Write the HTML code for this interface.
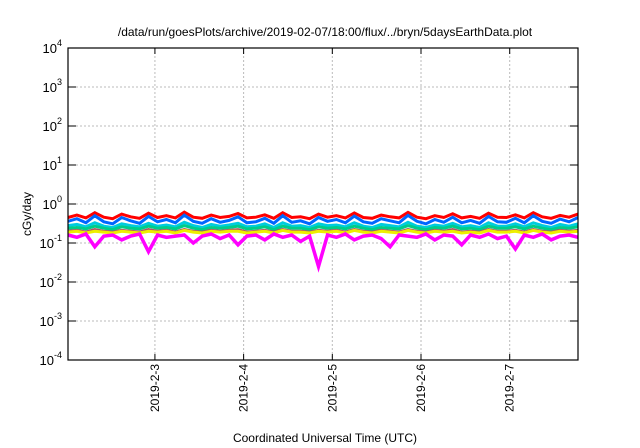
<!DOCTYPE html>
<html><head><meta charset="utf-8"><style>
body{margin:0;background:#fff;}
svg{display:block;font-family:"Liberation Sans",sans-serif;}
</style></head><body>
<svg width="640" height="448">
<rect width="640" height="448" fill="#fff"/>
<text x="325" y="36" font-size="12" text-anchor="middle">/data/run/goesPlots/archive/2019-02-07/18:00/flux/../bryn/5daysEarthData.plot</text>
<g id="grid"></g>
<g id="series"></g>
<g id="axes"></g>
<text x="325" y="442" font-size="12" text-anchor="middle">Coordinated Universal Time (UTC)</text>
<text transform="translate(31,214) rotate(-90)" font-size="12" text-anchor="middle">cGy/day</text>
</svg>
<script>
const xTicks=[3,4,5,6,7];
const xTickLabels=["2019-2-3","2019-2-4","2019-2-5","2019-2-6","2019-2-7"];
const yTicks=[-4,-3,-2,-1,0,1,2,3,4];
const seriesNames=["red","blue","cyan","green","brown","yellow","magenta"];
const seriesColors=["#ff0000","#0066ff","#00ccdd","#00cc88","#aa5566","#eeee00","#ff00ff"];
const red=[0.45,0.52,0.44,0.6,0.46,0.42,0.55,0.47,0.43,0.58,0.45,0.5,0.44,0.62,0.46,0.43,0.52,0.45,0.48,0.57,0.44,0.46,0.53,0.43,0.6,0.45,0.47,0.42,0.55,0.46,0.5,0.44,0.59,0.45,0.43,0.52,0.47,0.44,0.61,0.46,0.42,0.5,0.45,0.56,0.44,0.48,0.43,0.58,0.46,0.45,0.53,0.44,0.6,0.47,0.43,0.51,0.46,0.55];
const blue=[0.36,0.42,0.33,0.5,0.35,0.31,0.45,0.37,0.32,0.48,0.35,0.4,0.33,0.52,0.36,0.32,0.42,0.34,0.38,0.47,0.33,0.35,0.43,0.32,0.5,0.34,0.37,0.31,0.45,0.36,0.4,0.33,0.49,0.35,0.32,0.42,0.37,0.33,0.51,0.36,0.31,0.4,0.34,0.46,0.33,0.38,0.32,0.48,0.35,0.34,0.43,0.33,0.5,0.36,0.32,0.41,0.35,0.45];
const cyan=[0.28,0.3,0.26,0.33,0.27,0.25,0.31,0.28,0.26,0.32,0.27,0.29,0.26,0.34,0.28,0.25,0.3,0.27,0.29,0.32,0.26,0.27,0.31,0.25,0.33,0.27,0.28,0.25,0.31,0.28,0.29,0.26,0.33,0.27,0.25,0.3,0.28,0.26,0.34,0.27,0.25,0.29,0.27,0.32,0.26,0.28,0.25,0.33,0.27,0.27,0.31,0.26,0.33,0.28,0.25,0.3,0.27,0.31];
const green=[0.24,0.25,0.23,0.27,0.24,0.22,0.26,0.24,0.23,0.27,0.24,0.25,0.23,0.28,0.24,0.22,0.25,0.24,0.25,0.27,0.23,0.24,0.26,0.22,0.27,0.24,0.24,0.22,0.26,0.24,0.25,0.23,0.27,0.24,0.22,0.25,0.24,0.23,0.28,0.24,0.22,0.25,0.24,0.27,0.23,0.24,0.22,0.27,0.24,0.24,0.26,0.23,0.27,0.24,0.22,0.25,0.24,0.26];
const brown=[0.2,0.21,0.19,0.22,0.2,0.19,0.21,0.2,0.19,0.22,0.2,0.21,0.19,0.22,0.2,0.19,0.21,0.2,0.21,0.22,0.19,0.2,0.21,0.19,0.22,0.2,0.2,0.19,0.21,0.2,0.21,0.19,0.22,0.2,0.19,0.21,0.2,0.19,0.22,0.2,0.19,0.21,0.2,0.22,0.19,0.2,0.19,0.22,0.2,0.2,0.21,0.19,0.22,0.2,0.19,0.21,0.2,0.21];
const yellow=[0.19,0.2,0.18,0.2,0.19,0.18,0.2,0.19,0.18,0.2,0.19,0.2,0.18,0.21,0.19,0.18,0.2,0.19,0.2,0.2,0.18,0.19,0.2,0.18,0.21,0.19,0.19,0.18,0.2,0.19,0.2,0.18,0.21,0.19,0.18,0.2,0.19,0.18,0.21,0.19,0.18,0.2,0.19,0.2,0.18,0.19,0.18,0.21,0.19,0.19,0.2,0.18,0.21,0.19,0.18,0.2,0.19,0.2];
const magenta=[0.16,0.14,0.17,0.08,0.15,0.16,0.12,0.15,0.17,0.06,0.16,0.14,0.15,0.16,0.1,0.15,0.17,0.13,0.16,0.09,0.15,0.16,0.12,0.17,0.14,0.16,0.11,0.15,0.025,0.16,0.14,0.17,0.12,0.15,0.16,0.13,0.08,0.16,0.15,0.14,0.17,0.12,0.16,0.15,0.09,0.16,0.14,0.17,0.13,0.15,0.07,0.16,0.14,0.17,0.12,0.15,0.16,0.14];
const allSeries=[red,blue,cyan,green,brown,yellow,magenta];
const X0=68,X1=578,Y0=48,Y1=360,D0=2.02,D1=7.77;
const xs=d=>X0+(d-D0)/(D1-D0)*(X1-X0);
const ys=v=>Y1-(Math.log10(v)+4)/8*(Y1-Y0);
const NS="http://www.w3.org/2000/svg";
const G=document.getElementById("grid"),S=document.getElementById("series"),A=document.getElementById("axes");
function mk(tag,at,p){const e=document.createElementNS(NS,tag);for(const k in at)e.setAttribute(k,at[k]);p.appendChild(e);return e;}
xTicks.forEach((t,i)=>{const x=xs(t);
 const g=mk("line",{x1:x,x2:x,y1:Y0,y2:Y1,stroke:"#bbb","stroke-dasharray":"2,2"},G);
 
 
 mk("line",{x1:x,x2:x,y1:Y1,y2:Y1-6,stroke:"#000"},A);
 mk("line",{x1:x,x2:x,y1:Y0,y2:Y0+6,stroke:"#000"},A);
 const tx=mk("text",{transform:`translate(${x+4},${Y1+52}) rotate(-90)`,"font-size":"12"},A);
 tx.textContent=xTickLabels[i];
 
 
});
yTicks.forEach(t=>{const y=ys(Math.pow(10,t));
 if(t>-4&&t<4){const g=mk("line",{x1:X0,x2:X1,y1:y,y2:y,stroke:"#bbb","stroke-dasharray":"2,2"},G);
 
 }
 mk("line",{x1:X0,x2:X0+8,y1:y,y2:y,stroke:"#000"},A);
 mk("line",{x1:X1,x2:X1-8,y1:y,y2:y,stroke:"#000"},A);
 const tx=mk("text",{x:X0-6,y:y+5,"font-size":"13","text-anchor":"end"},A);
 tx.textContent="10";
 const sp=mk("tspan",{dy:"-7","font-size":"9"},tx);sp.textContent=String(t);
 
 
});
allSeries.forEach((vals,si)=>{
 const step=(D1-D0)/(vals.length-1);
 const pts=vals.map((v,i)=>xs(D0+i*step).toFixed(1)+","+ys(v).toFixed(1)).join(" ");
 const pl=mk("polyline",{points:pts,fill:"none",stroke:seriesColors[si],"stroke-width":si==6?3.5:3,"stroke-linejoin":"miter"},S);
 
 
});
const fr=mk("rect",{x:X0,y:Y0,width:X1-X0,height:Y1-Y0,fill:"none",stroke:"#000","stroke-width":1.2},A);


</script>
</body></html>
